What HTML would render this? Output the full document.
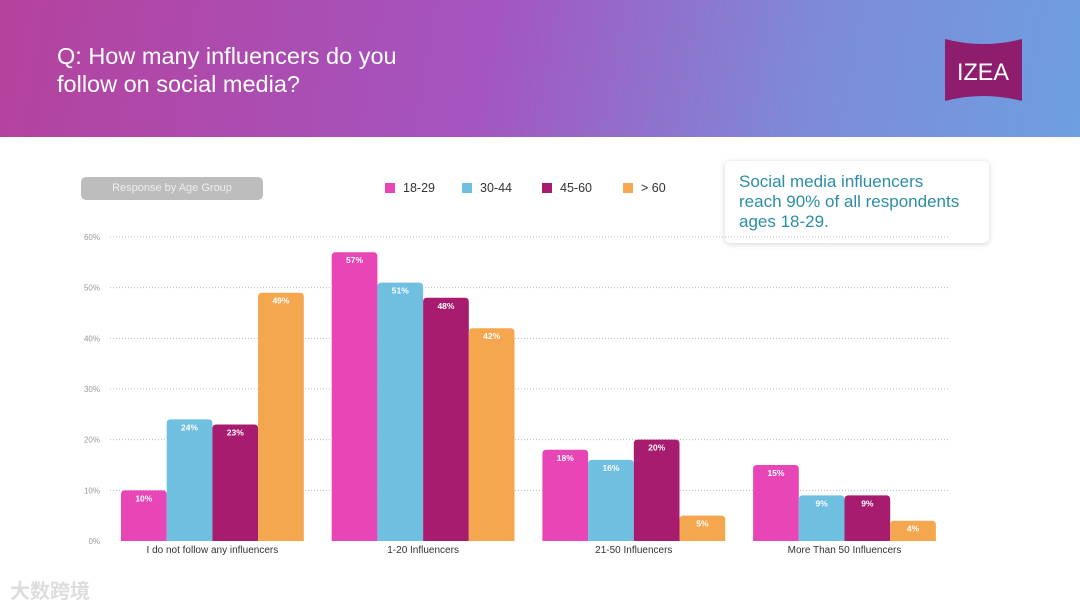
<!DOCTYPE html>
<html><head><meta charset="utf-8"><style>
body{margin:0;width:1080px;height:608px;overflow:hidden;background:#fff;font-family:"Liberation Sans","Noto Sans CJK SC",sans-serif;position:relative}
.hdr{position:absolute;left:0;top:0;width:1080px;height:137px;background:linear-gradient(100deg,#b4429d 0%,#a455c0 45%,#7d8bd8 75%,#6e9fe0 100%)}
.title{position:absolute;left:57px;top:42px;color:#fff;font-size:23.5px;line-height:28px}
.logo{position:absolute;left:945px;top:37px;width:77px;height:66px}
.callout{position:absolute;left:725px;top:161px;width:264px;height:82px;background:#fff;border-radius:5px;box-shadow:0 1px 6px rgba(0,0,0,.18)}
.callout div{position:absolute;left:14px;top:11px;color:#2b8ea6;font-size:17px;line-height:20px}
.pill{position:absolute;left:81px;top:177px;width:182px;height:23px;border-radius:5px;background:#bdbdbd;color:#eee;font-size:11px;line-height:23px;text-align:center}
.wm{position:absolute;left:10px;top:575px;font-size:20px;color:#ddd;font-weight:bold}
</style></head><body>
<div class="hdr"></div>
<div class="title">Q: How many influencers do you<br>follow on social media?</div>
<svg class="logo" viewBox="0 0 77 66"><path d="M0 2 Q38 12 77 2 L77 64 Q38 54 0 64Z" fill="#8e1e6d"/><text x="38" y="43" fill="#fff" font-size="24" text-anchor="middle" font-family="Liberation Sans" textLength="52" lengthAdjust="spacingAndGlyphs">IZEA</text></svg>
<div class="callout"><div>Social media influencers<br>reach 90% of all respondents<br>ages 18-29.</div></div>
<div class="pill">Response by Age Group</div>
<div class="wm">大数跨境</div>
<svg id="c" width="1080" height="608" style="position:absolute;left:0;top:0"></svg>
<script>
const categories=["I do not follow any influencers","1-20 Influencers","21-50 Influencers","More Than 50 Influencers"];
const seriesNames=["18-29","30-44","45-60","> 60"];
const s1829=[10,57,18,15];
const s3044=[24,51,16,9];
const s4560=[23,48,20,9];
const s60=[49,42,5,4];
const ticks=[0,10,20,30,40,50,60];
const series=[s1829,s3044,s4560,s60];
const colors=["#e845b6","#6ebfe0","#a81c6f","#f5a750"];
const svg=document.getElementById('c');const NS="http://www.w3.org/2000/svg";
function el(t,a,txt){const e=document.createElementNS(NS,t);for(const k in a)e.setAttribute(k,a[k]);if(txt!=null)e.textContent=txt;svg.appendChild(e);return e;}
const x0=110,x1=948,y0=541,yTop=237;
const y=v=>y0-(v/60)*(y0-yTop);
const g0=121,band=210.7,bw=45.7;
ticks.forEach(t=>{
 if(t>0){const g=el('line',{x1:x0,x2:x1,y1:y(t),y2:y(t),stroke:'#bbb','stroke-dasharray':'1 2','stroke-width':1});
 }
 const l=el('text',{x:100,y:y(t)+3,'font-size':8,fill:'#999','text-anchor':'end'},t+'%');
 
});
categories.forEach((c,i)=>{
 const gx=g0+i*band;
 series.forEach((s,j)=>{
  const bx=gx+j*bw,by=y(s[i]);
  const p=el('path',{d:`M${bx} ${y0}V${by+4}Q${bx} ${by} ${bx+4} ${by}H${bx+bw-4}Q${bx+bw} ${by} ${bx+bw} ${by+4}V${y0}Z`,fill:colors[j]});
  
  
  const v=el('text',{x:bx+bw/2,y:by+11,'font-size':8.5,'font-weight':'bold',fill:'#fff','text-anchor':'middle'},s[i]+'%');
  
 });
 const cl=el('text',{x:gx+2*bw,y:553,'font-size':10,fill:'#333','text-anchor':'middle'},c);
 
});
const lx=[385,462,542,623];
seriesNames.forEach((n,j)=>{
 const r=el('rect',{x:lx[j],y:183,width:10,height:10,fill:colors[j]});
 
 const t=el('text',{x:lx[j]+18,y:192,'font-size':12.5,fill:'#333'},n);
 
});
</script>
</body></html>
